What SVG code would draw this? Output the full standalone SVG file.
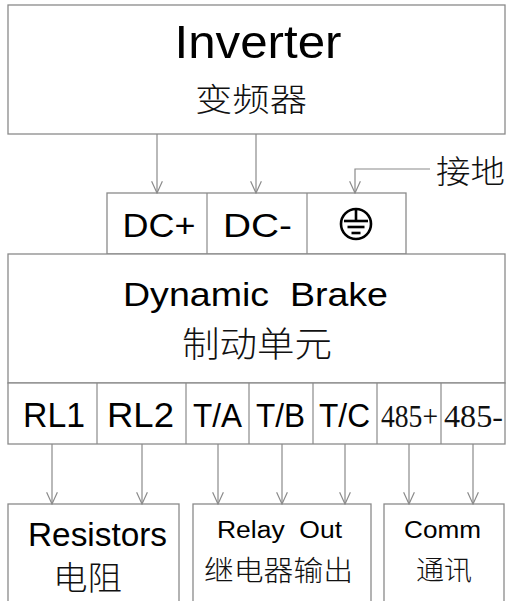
<svg xmlns="http://www.w3.org/2000/svg" width="510" height="601" viewBox="0 0 510 601">
<style>
.box{fill:#fff;stroke:#8a8a8a;stroke-width:1.3}
.ln{fill:none;stroke:#8a8a8a;stroke-width:1.2}
.en{font-family:"Liberation Sans",Arial,sans-serif;fill:#000;text-anchor:middle}
.cn{font-family:"Noto Sans CJK SC",sans-serif;fill:#111;text-anchor:middle;font-weight:300}
.sf{font-family:"Liberation Serif","Times New Roman",serif;fill:#111;text-anchor:middle}
</style>
<defs>
<marker id="ah" markerUnits="userSpaceOnUse" markerWidth="14" markerHeight="14" viewBox="-12 -6 13 12" refX="0" refY="0" orient="auto">
<path d="M-11,-5 L0,0 L-11,5" fill="none" stroke="#8a8a8a" stroke-width="1.1"/>
</marker>
</defs>
<rect width="510" height="601" fill="#fff"/>

<g id="inverter">
<rect class="box" x="8" y="5" width="497" height="129"/>
<text class="en" x="258" y="58" font-size="47" textLength="167" lengthAdjust="spacingAndGlyphs">Inverter</text>
<text class="cn" x="251" y="111" font-size="32" textLength="112" lengthAdjust="spacingAndGlyphs">变频器</text>
</g>

<g id="ground-label">
<text class="cn" x="470.5" y="183" font-size="32" textLength="69" lengthAdjust="spacingAndGlyphs">接地</text>
</g>

<g id="dc-terminals">
<rect class="box" x="107" y="193" width="299" height="61"/>
<line class="ln" x1="207" y1="193" x2="207" y2="254"/>
<line class="ln" x1="307" y1="193" x2="307" y2="254"/>
<text class="en" x="159" y="237" font-size="34" textLength="73" lengthAdjust="spacingAndGlyphs">DC+</text>
<text class="en" x="257.5" y="237" font-size="34" textLength="69" lengthAdjust="spacingAndGlyphs">DC-</text>
<g id="earth-symbol" fill="none" stroke="#000" stroke-width="2.6">
<circle cx="356" cy="224" r="15"/>
<line x1="356" y1="210" x2="356" y2="221"/>
<line x1="344" y1="221" x2="368" y2="221"/>
<line x1="347.5" y1="227" x2="364.5" y2="227"/>
<line x1="351.5" y1="233" x2="360.5" y2="233"/>
</g>
</g>

<g id="dynamic-brake">
<rect class="box" x="8" y="254" width="497" height="129"/>
<text class="en" x="255.5" y="306" font-size="34" textLength="265" lengthAdjust="spacingAndGlyphs" xml:space="preserve" style="white-space:pre">Dynamic  Brake</text>
<text class="cn" x="257" y="357" font-size="35" textLength="150" lengthAdjust="spacingAndGlyphs">制动单元</text>
</g>

<g id="output-terminals">
<rect class="box" x="8" y="383" width="497" height="61"/>
<line class="ln" x1="97" y1="383" x2="97" y2="444"/>
<line class="ln" x1="186" y1="383" x2="186" y2="444"/>
<line class="ln" x1="249" y1="383" x2="249" y2="444"/>
<line class="ln" x1="313" y1="383" x2="313" y2="444"/>
<line class="ln" x1="377" y1="383" x2="377" y2="444"/>
<line class="ln" x1="441" y1="383" x2="441" y2="444"/>
<text class="en" x="54" y="427" font-size="35" textLength="62" lengthAdjust="spacingAndGlyphs">RL1</text>
<text class="en" x="140.5" y="427" font-size="35" textLength="67" lengthAdjust="spacingAndGlyphs">RL2</text>
<text class="en" x="217.5" y="427" font-size="33" textLength="49" lengthAdjust="spacingAndGlyphs">T/A</text>
<text class="en" x="280.5" y="427" font-size="33" textLength="49" lengthAdjust="spacingAndGlyphs">T/B</text>
<text class="en" x="344.5" y="427" font-size="33" textLength="51" lengthAdjust="spacingAndGlyphs">T/C</text>
<text class="sf" x="409.5" y="427" font-size="32" textLength="57" lengthAdjust="spacingAndGlyphs">485+</text>
<text class="sf" x="473.5" y="427" font-size="32" textLength="59" lengthAdjust="spacingAndGlyphs">485-</text>
</g>

<g id="resistors">
<rect class="box" x="8" y="504" width="171" height="110"/>
<text class="en" x="97.5" y="546" font-size="33" textLength="139" lengthAdjust="spacingAndGlyphs">Resistors</text>
<text class="cn" x="87.5" y="590" font-size="33" textLength="69" lengthAdjust="spacingAndGlyphs">电阻</text>
</g>

<g id="relay-out">
<rect class="box" x="193" y="504" width="178" height="110"/>
<text class="en" x="279.5" y="538" font-size="23" textLength="125" lengthAdjust="spacingAndGlyphs" xml:space="preserve" style="white-space:pre">Relay  Out</text>
<text class="cn" x="278.5" y="581" font-size="28" textLength="149" lengthAdjust="spacingAndGlyphs">继电器输出</text>
</g>

<g id="comm">
<rect class="box" x="384" y="504" width="120" height="110"/>
<text class="en" x="442.5" y="537.5" font-size="23" textLength="77" lengthAdjust="spacingAndGlyphs">Comm</text>
<text class="cn" x="444" y="580" font-size="27" textLength="56" lengthAdjust="spacingAndGlyphs">通讯</text>
</g>

<g id="connectors" class="ln">
<line x1="157" y1="134" x2="157" y2="193" marker-end="url(#ah)"/>
<line x1="256" y1="134" x2="256" y2="193" marker-end="url(#ah)"/>
<polyline points="430,169 355,169 355,193" marker-end="url(#ah)"/>
<line x1="52" y1="444" x2="52" y2="504" marker-end="url(#ah)"/>
<line x1="142" y1="444" x2="142" y2="504" marker-end="url(#ah)"/>
<line x1="218" y1="444" x2="218" y2="504" marker-end="url(#ah)"/>
<line x1="282" y1="444" x2="282" y2="504" marker-end="url(#ah)"/>
<line x1="345" y1="444" x2="345" y2="504" marker-end="url(#ah)"/>
<line x1="409" y1="444" x2="409" y2="504" marker-end="url(#ah)"/>
<line x1="473" y1="444" x2="473" y2="504" marker-end="url(#ah)"/>
</g>
</svg>
